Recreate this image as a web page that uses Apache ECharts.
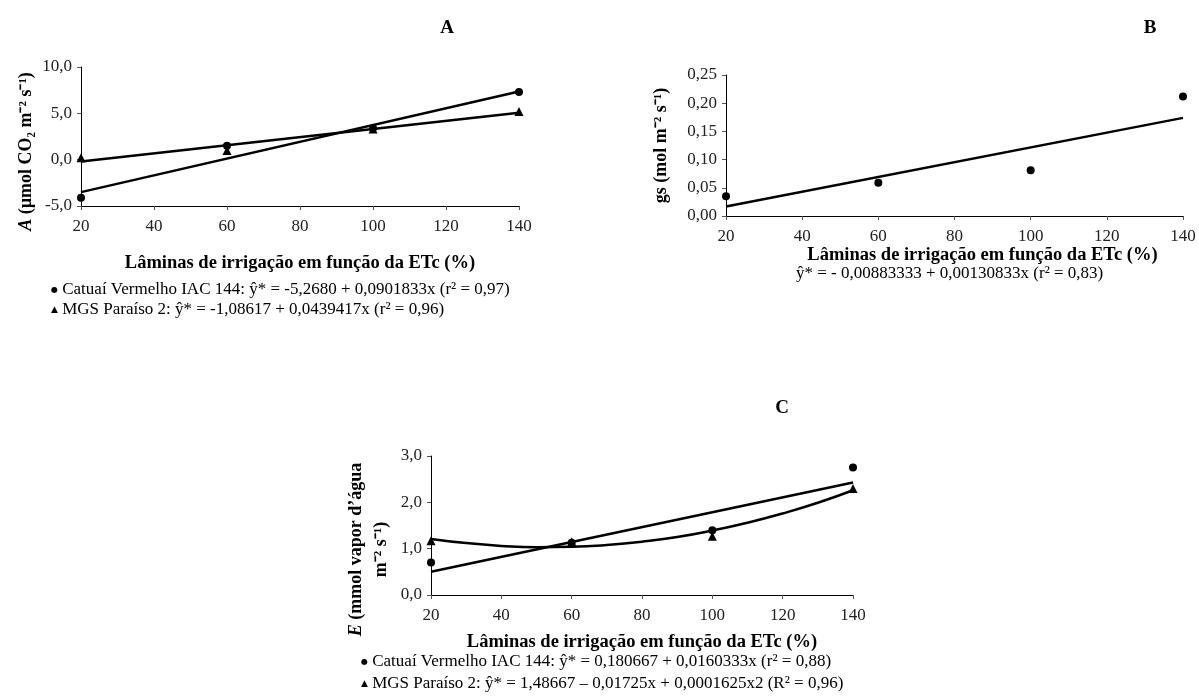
<!DOCTYPE html>
<html>
<head>
<meta charset="utf-8">
<script src="https://cdn.jsdelivr.net/npm/echarts@6/dist/echarts.min.js"></script>
<style>
html,body{margin:0;padding:0;background:#fff;}
#chart{width:1199px;height:697px;}
</style>
</head>
<body>
<div id="chart"></div>
<script>
// ---- data ----
const xLevels = [20, 60, 100, 140];
const fitX = [20, 140];
// Panel A: net photosynthesis
const aCatuai = [-4.1, 1.5, 3.4, 7.3];
const aMGS = [0.2, 1.0, 3.3, 5.2];
const aCatuaiFit = [-3.5, 7.35];
const aMGSFit = [-0.2, 5.07];
// Panel B: stomatal conductance
const bGs = [0.035, 0.059, 0.081, 0.212];
const bFit = [0.017, 0.174];
// Panel C: transpiration
const cCatuai = [0.7, 1.13, 1.4, 2.75];
const cMGS = [1.17, 1.15, 1.27, 2.3];
const cCatuaiFit = [0.5, 2.43];
const cCurveX = [20, 30, 40, 50, 60, 70, 80, 90, 100, 110, 120, 130, 140];
const cMGSCurve = [1.21, 1.12, 1.06, 1.03, 1.04, 1.08, 1.15, 1.25, 1.39, 1.56, 1.76, 1.99, 2.26];

// ---- texts ----
const xName = 'Lâminas de irrigação em função da ETc (%)';
const legA1 = 'Catuaí Vermelho IAC 144: ŷ* = -5,2680 + 0,0901833x (r² = 0,97)';
const legA2 = 'MGS Paraíso 2: ŷ* = -1,08617 + 0,0439417x (r² = 0,96)';
const eqB = 'ŷ* = - 0,00883333 + 0,00130833x (r² = 0,83)';
const legC1 = 'Catuaí Vermelho IAC 144: ŷ* = 0,180667 + 0,0160333x (r² = 0,88)';
const legC2 = 'MGS Paraíso 2: ŷ* = 1,48667 – 0,01725x + 0,0001625x2 (R² = 0,96)';

const FONT = '"Liberation Serif", "Times New Roman", serif';
const pair = (xs, ys) => xs.map((x, i) => [x, ys[i]]);

const chart = echarts.init(document.getElementById('chart'), null, {renderer: 'canvas'});

function xAxis(gridIndex, nameGap, padding) {
  return {
    gridIndex, type: 'value', min: 20, max: 140, interval: 20,
    name: xName, nameLocation: 'middle', nameGap,
    nameTextStyle: {fontFamily: FONT, fontSize: 18.5, fontWeight: 'bold', color: '#000', padding: padding || 0},
    axisLine: {onZero: false, lineStyle: {color: '#000', width: 1}},
    axisTick: {show: true, length: 4, lineStyle: {color: '#555'}},
    axisLabel: {fontFamily: FONT, fontSize: 17, color: '#222', margin: 12},
    splitLine: {show: false}
  };
}
function yAxis(gridIndex, min, max, interval, dec, name, nameGap, padding, rich) {
  return {
    gridIndex, type: 'value', min, max, interval,
    name, nameLocation: 'middle', nameRotate: 90, nameGap,
    nameTextStyle: {fontFamily: FONT, fontSize: 18, fontWeight: 'bold', color: '#000', lineHeight: 25, padding: padding || 0, rich: rich || {}},
    axisLine: {show: true, onZero: false, lineStyle: {color: '#000', width: 1}},
    axisTick: {show: true, length: 4, lineStyle: {color: '#555'}},
    axisLabel: {fontFamily: FONT, fontSize: 17, color: '#222', margin: 9,
      formatter: v => v.toFixed(dec).replace('.', ',')},
    splitLine: {show: false}
  };
}

const italicRich = {i: {fontFamily: FONT, fontSize: 18, fontWeight: 'bold', fontStyle: 'italic', color: '#000', lineHeight: 25}};

const lineStyle = {color: '#000', width: 2.5};
const scat = (xi, yi, data, symbol) => ({
  type: 'scatter', xAxisIndex: xi, yAxisIndex: yi, data, symbol,
  symbolSize: symbol === 'triangle' ? 9 : 8, itemStyle: {color: '#000', opacity: 1}, z: 5, silent: true
});
const fit = (xi, yi, data, smooth) => ({
  type: 'line', xAxisIndex: xi, yAxisIndex: yi, data, showSymbol: false, symbol: 'none',
  smooth: !!smooth, lineStyle, z: 4, silent: true
});

const legendText = (x, y, sym, text) => ({
  type: 'text', x, y,
  style: {
    text: '{s|' + sym + '} ' + text,
    fontFamily: FONT, fontSize: 17, fill: '#000',
    align: 'left', verticalAlign: 'middle',
    rich: {s: {fontSize: sym === '▲' ? 9 : 8, fontFamily: 'DejaVu Sans', fill: '#000'}}
  }
});
const titleText = (x, y, t) => ({
  type: 'text', x, y,
  style: {text: t, fontFamily: FONT, fontSize: 19, fontWeight: 'bold', fill: '#000', align: 'center', verticalAlign: 'middle'}
});

chart.setOption({
  animation: false,
  backgroundColor: '#fff',
  grid: [
    {left: 81, top: 67, width: 438, height: 139},
    {left: 726, top: 75, width: 457, height: 141},
    {left: 431, top: 456, width: 422, height: 139}
  ],
  xAxis: [
    xAxis(0, 48),
    xAxis(1, 30, [0, 0, 0, 56]),
    xAxis(2, 38)
  ],
  yAxis: [
    yAxis(0, -5, 10, 5, 1, '{i|A} (µmol CO₂ m⁻² s⁻¹)', 42, [0, 30, 0, 0], italicRich),
    yAxis(1, 0, 0.25, 0.05, 2, 'gs (mol m⁻² s⁻¹)', 52),
    yAxis(2, 0, 3, 1, 1, '{i|E} (mmol vapor d’água\nm⁻² s⁻¹)', 37, [0, 48, 0, 0], italicRich)
  ],
  series: [
    fit(0, 0, pair(fitX, aCatuaiFit)),
    fit(0, 0, pair(fitX, aMGSFit)),
    scat(0, 0, pair(xLevels, aCatuai), 'circle'),
    scat(0, 0, pair(xLevels, aMGS), 'triangle'),
    fit(1, 1, pair(fitX, bFit)),
    scat(1, 1, pair(xLevels, bGs), 'circle'),
    fit(2, 2, pair(fitX, cCatuaiFit)),
    fit(2, 2, pair(cCurveX, cMGSCurve), true),
    scat(2, 2, pair(xLevels, cCatuai), 'circle'),
    scat(2, 2, pair(xLevels, cMGS), 'triangle')
  ],
  graphic: [
    titleText(447, 28, 'A'),
    titleText(1150, 28, 'B'),
    titleText(782, 408, 'C'),
    legendText(51, 290, '●', legA1),
    legendText(51, 310, '▲', legA2),
    {type: 'text', x: 796, y: 274, style: {text: eqB, fontFamily: FONT, fontSize: 17, fill: '#000', align: 'left', verticalAlign: 'middle'}},
    legendText(361, 662, '●', legC1),
    legendText(361, 684, '▲', legC2)
  ]
});
</script>
</body>
</html>
